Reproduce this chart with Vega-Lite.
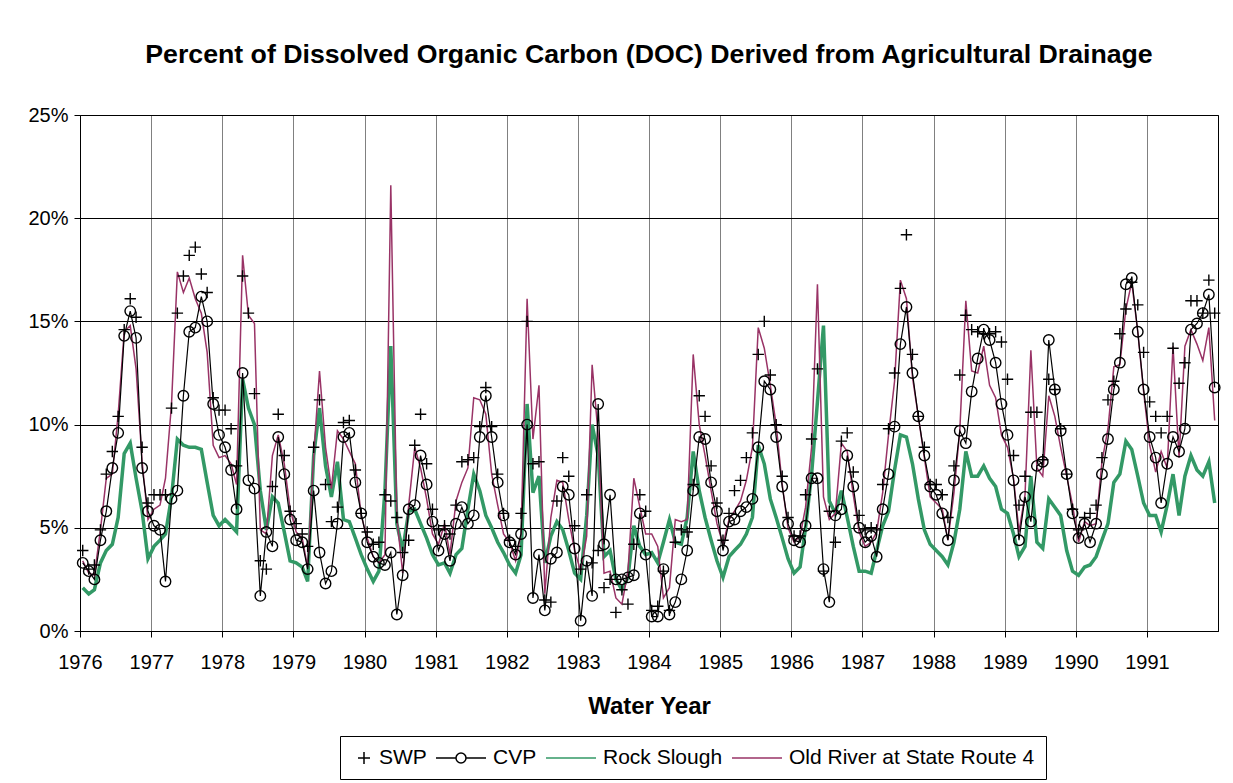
{
"$schema":"https://vega.github.io/schema/vega-lite/v6.json",
"width":1138,"height":516,
"autosize":{"type":"none"},
"padding":{"left":80,"top":115,"right":15,"bottom":152},
"background":"white",
"title":{"text":"Percent of Dissolved Organic Carbon (DOC) Derived from Agricultural Drainage","fontSize":26.7,"fontWeight":"bold","font":"Liberation Sans","color":"black","anchor":"middle","baseline":"alphabetic","offset":15},
"data":{"values":[
{"d":"1976-01-15","SWP":3.9,"CVP":3.3,"Rock":2.1,"Old":3.4},
{"d":"1976-02-15","SWP":3.0,"CVP":2.9,"Rock":1.8,"Old":2.8},
{"d":"1976-03-15","SWP":3.2,"CVP":2.5,"Rock":2.0,"Old":2.7},
{"d":"1976-04-15","SWP":4.9,"CVP":4.4,"Rock":3.3,"Old":4.9},
{"d":"1976-05-15","SWP":7.6,"CVP":5.8,"Rock":3.9,"Old":7.4},
{"d":"1976-06-15","SWP":8.7,"CVP":7.9,"Rock":4.2,"Old":7.6},
{"d":"1976-07-15","SWP":10.4,"CVP":9.6,"Rock":5.5,"Old":10.5},
{"d":"1976-08-15","SWP":14.6,"CVP":14.3,"Rock":8.6,"Old":14.5},
{"d":"1976-09-15","SWP":16.1,"CVP":15.5,"Rock":9.1,"Old":14.8},
{"d":"1976-10-15","SWP":15.2,"CVP":14.2,"Rock":7.4,"Old":12.7},
{"d":"1976-11-15","SWP":8.9,"CVP":7.9,"Rock":5.8,"Old":8.2},
{"d":"1976-12-15","SWP":6.2,"CVP":5.8,"Rock":3.5,"Old":5.4},
{"d":"1977-01-15","SWP":6.6,"CVP":5.1,"Rock":4.1,"Old":5.9},
{"d":"1977-02-15","SWP":6.6,"CVP":4.9,"Rock":4.4,"Old":6.1},
{"d":"1977-03-15","SWP":6.6,"CVP":2.4,"Rock":4.7,"Old":7.4},
{"d":"1977-04-15","SWP":10.8,"CVP":6.4,"Rock":6.5,"Old":11.0},
{"d":"1977-05-15","SWP":15.4,"CVP":6.8,"Rock":9.3,"Old":17.4},
{"d":"1977-06-15","SWP":17.2,"CVP":11.4,"Rock":9.0,"Old":16.4},
{"d":"1977-07-15","SWP":18.2,"CVP":14.5,"Rock":8.9,"Old":17.1},
{"d":"1977-08-15","SWP":18.6,"CVP":14.7,"Rock":8.9,"Old":16.1},
{"d":"1977-09-15","SWP":17.3,"CVP":16.2,"Rock":8.8,"Old":15.4},
{"d":"1977-10-15","SWP":16.4,"CVP":15.0,"Rock":7.2,"Old":13.5},
{"d":"1977-11-15","SWP":11.3,"CVP":11.0,"Rock":5.6,"Old":9.0},
{"d":"1977-12-15","SWP":10.7,"CVP":9.5,"Rock":5.1,"Old":8.4},
{"d":"1978-01-15","SWP":10.7,"CVP":8.9,"Rock":5.4,"Old":8.5},
{"d":"1978-02-15","SWP":9.8,"CVP":7.8,"Rock":5.1,"Old":8.1},
{"d":"1978-03-15","SWP":8.0,"CVP":5.9,"Rock":4.8,"Old":7.1},
{"d":"1978-04-15","SWP":17.2,"CVP":12.5,"Rock":12.2,"Old":18.2},
{"d":"1978-05-15","SWP":15.4,"CVP":7.3,"Rock":10.8,"Old":15.3},
{"d":"1978-06-15","SWP":11.5,"CVP":6.9,"Rock":10.0,"Old":14.9},
{"d":"1978-07-15","SWP":3.4,"CVP":1.7,"Rock":6.8,"Old":4.9},
{"d":"1978-08-15","SWP":3.0,"CVP":4.8,"Rock":4.9,"Old":4.7},
{"d":"1978-09-15","SWP":7.0,"CVP":4.1,"Rock":6.5,"Old":8.5},
{"d":"1978-10-15","SWP":10.5,"CVP":9.4,"Rock":6.2,"Old":9.5},
{"d":"1978-11-15","SWP":8.5,"CVP":7.6,"Rock":4.8,"Old":8.1},
{"d":"1978-12-15","SWP":5.8,"CVP":5.4,"Rock":3.4,"Old":5.9},
{"d":"1979-01-15","SWP":5.2,"CVP":4.4,"Rock":3.3,"Old":4.8},
{"d":"1979-02-15","SWP":4.7,"CVP":4.3,"Rock":3.1,"Old":4.5},
{"d":"1979-03-15","SWP":4.1,"CVP":3.0,"Rock":2.4,"Old":3.1},
{"d":"1979-04-15","SWP":8.9,"CVP":6.8,"Rock":8.5,"Old":8.5},
{"d":"1979-05-15","SWP":11.2,"CVP":3.8,"Rock":10.8,"Old":12.6},
{"d":"1979-06-15","SWP":7.1,"CVP":2.3,"Rock":8.0,"Old":8.9},
{"d":"1979-07-15","SWP":5.3,"CVP":2.9,"Rock":6.5,"Old":6.9},
{"d":"1979-08-15","SWP":6.0,"CVP":5.2,"Rock":8.2,"Old":9.7},
{"d":"1979-09-15","SWP":10.1,"CVP":9.4,"Rock":5.4,"Old":9.3},
{"d":"1979-10-15","SWP":10.2,"CVP":9.6,"Rock":5.3,"Old":8.7},
{"d":"1979-11-15","SWP":7.8,"CVP":7.2,"Rock":4.5,"Old":8.1},
{"d":"1979-12-15","SWP":5.7,"CVP":5.7,"Rock":3.7,"Old":5.6},
{"d":"1980-01-15","SWP":4.8,"CVP":4.3,"Rock":3.0,"Old":4.5},
{"d":"1980-02-15","SWP":4.2,"CVP":3.6,"Rock":2.4,"Old":3.6},
{"d":"1980-03-15","SWP":4.3,"CVP":3.3,"Rock":2.9,"Old":3.3},
{"d":"1980-04-15","SWP":6.6,"CVP":3.2,"Rock":6.8,"Old":3.7},
{"d":"1980-05-15","SWP":6.3,"CVP":3.8,"Rock":13.8,"Old":21.6},
{"d":"1980-06-15","SWP":5.5,"CVP":0.8,"Rock":5.2,"Old":5.5},
{"d":"1980-07-15","SWP":3.8,"CVP":2.7,"Rock":3.9,"Old":2.8},
{"d":"1980-08-15","SWP":4.4,"CVP":5.9,"Rock":5.8,"Old":6.1},
{"d":"1980-09-15","SWP":9.0,"CVP":6.1,"Rock":5.9,"Old":8.9},
{"d":"1980-10-15","SWP":10.5,"CVP":8.5,"Rock":5.2,"Old":7.9},
{"d":"1980-11-15","SWP":8.1,"CVP":7.1,"Rock":4.5,"Old":6.4},
{"d":"1980-12-15","SWP":5.9,"CVP":5.3,"Rock":3.7,"Old":4.7},
{"d":"1981-01-15","SWP":4.9,"CVP":3.9,"Rock":3.2,"Old":4.2},
{"d":"1981-02-15","SWP":5.1,"CVP":4.7,"Rock":3.3,"Old":5.2},
{"d":"1981-03-15","SWP":4.7,"CVP":3.4,"Rock":2.8,"Old":3.7},
{"d":"1981-04-15","SWP":6.1,"CVP":5.2,"Rock":3.7,"Old":6.3},
{"d":"1981-05-15","SWP":8.2,"CVP":6.0,"Rock":4.0,"Old":7.2},
{"d":"1981-06-15","SWP":8.3,"CVP":5.2,"Rock":5.9,"Old":7.9},
{"d":"1981-07-15","SWP":8.4,"CVP":5.6,"Rock":7.6,"Old":11.3},
{"d":"1981-08-15","SWP":9.9,"CVP":9.4,"Rock":6.8,"Old":11.2},
{"d":"1981-09-15","SWP":11.8,"CVP":11.4,"Rock":5.6,"Old":10.5},
{"d":"1981-10-15","SWP":9.9,"CVP":9.4,"Rock":5.0,"Old":7.6},
{"d":"1981-11-15","SWP":7.6,"CVP":7.2,"Rock":4.3,"Old":6.1},
{"d":"1981-12-15","SWP":5.7,"CVP":5.6,"Rock":3.8,"Old":4.7},
{"d":"1982-01-15","SWP":4.4,"CVP":4.3,"Rock":3.2,"Old":4.3},
{"d":"1982-02-15","SWP":4.1,"CVP":3.7,"Rock":2.8,"Old":3.4},
{"d":"1982-03-15","SWP":5.7,"CVP":4.7,"Rock":3.7,"Old":4.7},
{"d":"1982-04-15","SWP":15.0,"CVP":10.0,"Rock":11.0,"Old":16.1},
{"d":"1982-05-15","SWP":8.1,"CVP":1.6,"Rock":6.7,"Old":9.3},
{"d":"1982-06-15","SWP":8.2,"CVP":3.7,"Rock":7.5,"Old":11.9},
{"d":"1982-07-15","SWP":1.5,"CVP":1.0,"Rock":3.3,"Old":1.8},
{"d":"1982-08-15","SWP":1.4,"CVP":3.5,"Rock":4.6,"Old":5.5},
{"d":"1982-09-15","SWP":6.3,"CVP":3.8,"Rock":5.3,"Old":7.3},
{"d":"1982-10-15","SWP":8.4,"CVP":7.0,"Rock":4.9,"Old":7.2},
{"d":"1982-11-15","SWP":7.5,"CVP":6.6,"Rock":3.9,"Old":5.4},
{"d":"1982-12-15","SWP":5.1,"CVP":4.0,"Rock":2.8,"Old":3.9},
{"d":"1983-01-15","SWP":3.0,"CVP":0.5,"Rock":2.5,"Old":2.9},
{"d":"1983-02-15","SWP":6.6,"CVP":3.4,"Rock":5.6,"Old":4.6},
{"d":"1983-03-15","SWP":3.3,"CVP":1.7,"Rock":10.0,"Old":12.9},
{"d":"1983-04-15","SWP":3.9,"CVP":11.0,"Rock":8.5,"Old":9.5},
{"d":"1983-05-15","SWP":2.1,"CVP":4.2,"Rock":3.6,"Old":2.8},
{"d":"1983-06-15","SWP":2.5,"CVP":6.6,"Rock":3.9,"Old":2.9},
{"d":"1983-07-15","SWP":0.9,"CVP":2.5,"Rock":2.5,"Old":1.6},
{"d":"1983-08-15","SWP":2.0,"CVP":2.5,"Rock":2.0,"Old":1.3},
{"d":"1983-09-15","SWP":1.3,"CVP":2.6,"Rock":2.6,"Old":2.9},
{"d":"1983-10-15","SWP":4.2,"CVP":2.7,"Rock":5.1,"Old":7.4},
{"d":"1983-11-15","SWP":6.6,"CVP":5.7,"Rock":4.1,"Old":6.0},
{"d":"1983-12-15","SWP":5.8,"CVP":3.7,"Rock":3.7,"Old":4.7},
{"d":"1984-01-15","SWP":1.0,"CVP":0.7,"Rock":3.8,"Old":4.7},
{"d":"1984-02-15","SWP":1.2,"CVP":0.7,"Rock":3.3,"Old":4.1},
{"d":"1984-03-15","SWP":2.9,"CVP":3.0,"Rock":4.3,"Old":1.6},
{"d":"1984-04-15","SWP":1.0,"CVP":0.8,"Rock":5.4,"Old":2.1},
{"d":"1984-05-15","SWP":4.3,"CVP":1.4,"Rock":4.3,"Old":5.4},
{"d":"1984-06-15","SWP":4.9,"CVP":2.5,"Rock":4.2,"Old":5.3},
{"d":"1984-07-15","SWP":4.8,"CVP":3.9,"Rock":5.5,"Old":5.4},
{"d":"1984-08-15","SWP":7.1,"CVP":6.8,"Rock":8.7,"Old":13.4},
{"d":"1984-09-15","SWP":11.4,"CVP":9.4,"Rock":6.8,"Old":10.0},
{"d":"1984-10-15","SWP":10.4,"CVP":9.3,"Rock":5.5,"Old":8.5},
{"d":"1984-11-15","SWP":8.0,"CVP":7.2,"Rock":4.4,"Old":6.8},
{"d":"1984-12-15","SWP":6.2,"CVP":5.8,"Rock":3.4,"Old":5.2},
{"d":"1985-01-15","SWP":4.4,"CVP":3.9,"Rock":2.6,"Old":4.2},
{"d":"1985-02-15","SWP":5.7,"CVP":5.3,"Rock":3.6,"Old":5.4},
{"d":"1985-03-15","SWP":6.8,"CVP":5.4,"Rock":3.9,"Old":5.8},
{"d":"1985-04-15","SWP":7.3,"CVP":5.8,"Rock":4.2,"Old":6.3},
{"d":"1985-05-15","SWP":8.4,"CVP":6.0,"Rock":4.7,"Old":7.3},
{"d":"1985-06-15","SWP":9.6,"CVP":6.4,"Rock":5.5,"Old":8.9},
{"d":"1985-07-15","SWP":13.4,"CVP":8.9,"Rock":9.0,"Old":14.7},
{"d":"1985-08-15","SWP":15.0,"CVP":12.1,"Rock":8.1,"Old":13.7},
{"d":"1985-09-15","SWP":12.4,"CVP":11.7,"Rock":6.4,"Old":11.9},
{"d":"1985-10-15","SWP":10.0,"CVP":9.4,"Rock":5.5,"Old":10.0},
{"d":"1985-11-15","SWP":7.5,"CVP":7.0,"Rock":4.5,"Old":7.1},
{"d":"1985-12-15","SWP":5.5,"CVP":5.2,"Rock":3.5,"Old":5.0},
{"d":"1986-01-15","SWP":4.6,"CVP":4.4,"Rock":2.8,"Old":4.3},
{"d":"1986-02-15","SWP":4.6,"CVP":4.3,"Rock":3.1,"Old":4.6},
{"d":"1986-03-15","SWP":6.6,"CVP":5.1,"Rock":5.0,"Old":6.0},
{"d":"1986-04-15","SWP":9.3,"CVP":7.4,"Rock":7.6,"Old":8.9},
{"d":"1986-05-15","SWP":12.7,"CVP":7.4,"Rock":11.1,"Old":16.8},
{"d":"1986-06-15","SWP":2.9,"CVP":3.0,"Rock":14.8,"Old":6.5},
{"d":"1986-07-15","SWP":5.8,"CVP":1.4,"Rock":6.3,"Old":5.4},
{"d":"1986-08-15","SWP":4.3,"CVP":5.6,"Rock":5.7,"Old":5.7},
{"d":"1986-09-15","SWP":9.2,"CVP":5.9,"Rock":6.8,"Old":9.1},
{"d":"1986-10-15","SWP":9.6,"CVP":8.5,"Rock":5.5,"Old":8.7},
{"d":"1986-11-15","SWP":7.7,"CVP":7.0,"Rock":4.1,"Old":6.6},
{"d":"1986-12-15","SWP":5.6,"CVP":5.0,"Rock":2.9,"Old":4.8},
{"d":"1987-01-15","SWP":4.9,"CVP":4.3,"Rock":2.9,"Old":4.1},
{"d":"1987-02-15","SWP":5.0,"CVP":4.6,"Rock":2.8,"Old":4.3},
{"d":"1987-03-15","SWP":4.9,"CVP":3.6,"Rock":3.9,"Old":4.8},
{"d":"1987-04-15","SWP":7.1,"CVP":5.9,"Rock":5.1,"Old":6.7},
{"d":"1987-05-15","SWP":9.8,"CVP":7.6,"Rock":5.8,"Old":9.5},
{"d":"1987-06-15","SWP":12.5,"CVP":9.9,"Rock":7.8,"Old":12.1},
{"d":"1987-07-15","SWP":16.6,"CVP":13.9,"Rock":9.5,"Old":17.0},
{"d":"1987-08-15","SWP":19.2,"CVP":15.7,"Rock":9.4,"Old":16.1},
{"d":"1987-09-15","SWP":13.4,"CVP":12.5,"Rock":8.1,"Old":12.3},
{"d":"1987-10-15","SWP":10.4,"CVP":10.4,"Rock":6.4,"Old":10.4},
{"d":"1987-11-15","SWP":8.9,"CVP":8.5,"Rock":4.9,"Old":8.4},
{"d":"1987-12-15","SWP":7.1,"CVP":7.0,"Rock":4.2,"Old":6.5},
{"d":"1988-01-15","SWP":7.1,"CVP":6.6,"Rock":3.9,"Old":6.2},
{"d":"1988-02-15","SWP":6.6,"CVP":5.7,"Rock":3.6,"Old":5.9},
{"d":"1988-03-15","SWP":5.5,"CVP":4.4,"Rock":3.2,"Old":4.4},
{"d":"1988-04-15","SWP":8.0,"CVP":7.3,"Rock":4.3,"Old":6.7},
{"d":"1988-05-15","SWP":12.4,"CVP":9.7,"Rock":5.9,"Old":9.7},
{"d":"1988-06-15","SWP":15.3,"CVP":9.1,"Rock":8.7,"Old":16.0},
{"d":"1988-07-15","SWP":14.6,"CVP":11.6,"Rock":7.5,"Old":12.6},
{"d":"1988-08-15","SWP":14.5,"CVP":13.2,"Rock":7.5,"Old":12.5},
{"d":"1988-09-15","SWP":14.4,"CVP":14.6,"Rock":8.0,"Old":13.8},
{"d":"1988-10-15","SWP":14.4,"CVP":14.1,"Rock":7.4,"Old":11.9},
{"d":"1988-11-15","SWP":14.5,"CVP":13.0,"Rock":7.0,"Old":11.3},
{"d":"1988-12-15","SWP":14.0,"CVP":11.0,"Rock":5.9,"Old":9.5},
{"d":"1989-01-15","SWP":12.2,"CVP":9.5,"Rock":5.7,"Old":8.9},
{"d":"1989-02-15","SWP":8.5,"CVP":7.3,"Rock":4.7,"Old":7.4},
{"d":"1989-03-15","SWP":6.1,"CVP":4.4,"Rock":3.6,"Old":4.8},
{"d":"1989-04-15","SWP":7.5,"CVP":6.5,"Rock":4.1,"Old":6.6},
{"d":"1989-05-15","SWP":10.6,"CVP":5.3,"Rock":7.5,"Old":13.6},
{"d":"1989-06-15","SWP":10.6,"CVP":8.0,"Rock":4.3,"Old":7.9},
{"d":"1989-07-15","SWP":8.3,"CVP":8.2,"Rock":4.0,"Old":7.5},
{"d":"1989-08-15","SWP":12.2,"CVP":14.1,"Rock":6.4,"Old":11.4},
{"d":"1989-09-15","SWP":11.7,"CVP":11.7,"Rock":6.0,"Old":10.4},
{"d":"1989-10-15","SWP":9.8,"CVP":9.7,"Rock":5.6,"Old":8.9},
{"d":"1989-11-15","SWP":7.6,"CVP":7.6,"Rock":3.9,"Old":7.5},
{"d":"1989-12-15","SWP":5.9,"CVP":5.7,"Rock":2.9,"Old":6.1},
{"d":"1990-01-15","SWP":4.9,"CVP":4.5,"Rock":2.7,"Old":4.3},
{"d":"1990-02-15","SWP":5.5,"CVP":5.2,"Rock":3.1,"Old":5.3},
{"d":"1990-03-15","SWP":5.7,"CVP":4.3,"Rock":3.2,"Old":5.1},
{"d":"1990-04-15","SWP":6.1,"CVP":5.2,"Rock":3.6,"Old":5.2},
{"d":"1990-05-15","SWP":8.4,"CVP":7.6,"Rock":4.4,"Old":8.2},
{"d":"1990-06-15","SWP":11.2,"CVP":9.3,"Rock":5.2,"Old":9.8},
{"d":"1990-07-15","SWP":12.1,"CVP":11.7,"Rock":7.2,"Old":12.8},
{"d":"1990-08-15","SWP":14.4,"CVP":13.0,"Rock":7.6,"Old":12.9},
{"d":"1990-09-15","SWP":15.6,"CVP":16.8,"Rock":9.2,"Old":15.6},
{"d":"1990-10-15","SWP":16.9,"CVP":17.1,"Rock":8.8,"Old":16.9},
{"d":"1990-11-15","SWP":15.8,"CVP":14.5,"Rock":7.5,"Old":14.5},
{"d":"1990-12-15","SWP":13.5,"CVP":11.7,"Rock":6.2,"Old":11.6},
{"d":"1991-01-15","SWP":11.1,"CVP":9.4,"Rock":5.6,"Old":9.0},
{"d":"1991-02-15","SWP":10.4,"CVP":8.4,"Rock":5.6,"Old":7.7},
{"d":"1991-03-15","SWP":9.6,"CVP":6.2,"Rock":4.8,"Old":8.7},
{"d":"1991-04-15","SWP":10.4,"CVP":8.1,"Rock":6.1,"Old":7.9},
{"d":"1991-05-15","SWP":13.7,"CVP":9.4,"Rock":7.6,"Old":13.8},
{"d":"1991-06-15","SWP":12.0,"CVP":8.7,"Rock":5.6,"Old":8.4},
{"d":"1991-07-15","SWP":13.0,"CVP":9.8,"Rock":7.5,"Old":13.8},
{"d":"1991-08-15","SWP":16.0,"CVP":14.6,"Rock":8.5,"Old":14.6},
{"d":"1991-09-15","SWP":16.0,"CVP":14.9,"Rock":7.8,"Old":13.9},
{"d":"1991-10-15","SWP":15.4,"CVP":15.4,"Rock":7.5,"Old":13.1},
{"d":"1991-11-15","SWP":17.0,"CVP":16.3,"Rock":8.2,"Old":14.7},
{"d":"1991-12-15","SWP":15.4,"CVP":11.8,"Rock":6.2,"Old":10.2}
]},
"encoding":{
 "x":{"field":"d","type":"temporal","title":"Water Year",
  "scale":{"type":"utc","domain":[{"year":1976,"month":1,"date":1,"utc":true},{"year":1992,"month":1,"date":1,"utc":true}]},
  "axis":{"values":[{"year":1976,"month":1,"date":1,"utc":true},{"year":1977,"month":1,"date":1,"utc":true},{"year":1978,"month":1,"date":1,"utc":true},{"year":1979,"month":1,"date":1,"utc":true},{"year":1980,"month":1,"date":1,"utc":true},{"year":1981,"month":1,"date":1,"utc":true},{"year":1982,"month":1,"date":1,"utc":true},{"year":1983,"month":1,"date":1,"utc":true},{"year":1984,"month":1,"date":1,"utc":true},{"year":1985,"month":1,"date":1,"utc":true},{"year":1986,"month":1,"date":1,"utc":true},{"year":1987,"month":1,"date":1,"utc":true},{"year":1988,"month":1,"date":1,"utc":true},{"year":1989,"month":1,"date":1,"utc":true},{"year":1990,"month":1,"date":1,"utc":true},{"year":1991,"month":1,"date":1,"utc":true}],
   "format":"%Y","labelFlush":false,"labelOverlap":false,"titleX":569,"titleY":82,"titleBaseline":"alphabetic","titleAnchor":"middle"}}
},
"layer":[
 {"mark":{"type":"line","color":"#339966","strokeWidth":3.5},
  "encoding":{"y":{"field":"Rock","type":"quantitative","title":null,"scale":{"domain":[0,25],"nice":false},"axis":{"values":[0,5,10,15,20,25],"labelExpr":"datum.value + '%'"}}}},
 {"mark":{"type":"line","color":"#993366","strokeWidth":1.5},
  "encoding":{"y":{"field":"Old","type":"quantitative","title":null,"scale":{"domain":[0,25],"nice":false},"axis":{"values":[0,5,10,15,20,25],"labelExpr":"datum.value + '%'"}}}},
 {"mark":{"type":"line","color":"black","strokeWidth":1.2},
  "encoding":{"y":{"field":"CVP","type":"quantitative","title":null,"scale":{"domain":[0,25],"nice":false},"axis":{"values":[0,5,10,15,20,25],"labelExpr":"datum.value + '%'"}}}},
 {"mark":{"type":"point","shape":"circle","filled":false,"size":110,"stroke":"black","strokeWidth":1.4,"opacity":1},
  "encoding":{"y":{"field":"CVP","type":"quantitative","title":null,"scale":{"domain":[0,25],"nice":false},"axis":{"values":[0,5,10,15,20,25],"labelExpr":"datum.value + '%'"}}}},
 {"mark":{"type":"point","shape":"M-1,0H1M0,-1V1","filled":false,"size":130,"stroke":"black","strokeWidth":1.4,"opacity":1},
  "encoding":{"y":{"field":"SWP","type":"quantitative","title":null,"scale":{"domain":[0,25],"nice":false},"axis":{"values":[0,5,10,15,20,25],"labelExpr":"datum.value + '%'"}}}},
 {"transform":[{"fold":["SWP","CVP","Rock","Old"],"as":["series","v"]}],
  "mark":{"type":"point","filled":false,"opacity":0},
  "encoding":{
   "y":{"field":"v","type":"quantitative","title":null,"scale":{"domain":[0,25],"nice":false},"axis":{"values":[0,5,10,15,20,25],"labelExpr":"datum.value + '%'"}},
   "color":{"field":"series","type":"nominal","title":null,"scale":{"domain":["SWP","CVP","Rock","Old"],"range":["#000000","#000000","#339966","#993366"]},"legend":{"labelExpr":"datum.label == 'Rock' ? 'Rock Slough' : datum.label == 'Old' ? 'Old River at State Route 4' : datum.label"}},
   "shape":{"field":"series","type":"nominal","title":null,"scale":{"domain":["SWP","CVP","Rock","Old"],"range":["M-0.4,0H0.8M0.2,-0.6V0.6","M-4,0H-2M-1,0H1M-1,0A0.5,0.5 0 1 1 -2,0A0.5,0.5 0 1 1 -1,0","M-4,0H1","M-4,0H1"]},"legend":{"labelExpr":"datum.label == 'Rock' ? 'Rock Slough' : datum.label == 'Old' ? 'Old River at State Route 4' : datum.label"}},
   "strokeWidth":{"field":"series","type":"nominal","title":null,"scale":{"domain":["SWP","CVP","Rock","Old"],"range":[1.5,1.5,4,1.5]},"legend":{"labelExpr":"datum.label == 'Rock' ? 'Rock Slough' : datum.label == 'Old' ? 'Old River at State Route 4' : datum.label"}}
  }}
],
"config":{
 "font":"Liberation Sans",
 "view":{"stroke":"black","strokeWidth":1},
 "axis":{"labelFont":"Liberation Sans","labelFontSize":20,"labelColor":"black","tickColor":"black","domainColor":"black","titleFont":"Liberation Sans","titleFontSize":24,"titleFontWeight":"bold","titleColor":"black"},
 "axisX":{"gridColor":"#808080","gridWidth":1,"gridOpacity":1,"tickSize":6,"labelPadding":15,"domain":true},
 "axisY":{"gridColor":"#000000","gridWidth":1,"gridOpacity":1,"tickSize":6,"labelPadding":6},
 "legend":{"orient":"none","legendX":260,"legendY":621,"direction":"horizontal","columns":4,"strokeColor":"black","fillColor":"white","padding":11,"labelFont":"Liberation Sans","labelFontSize":21,"labelColor":"black","labelLimit":400,"symbolOpacity":1,"symbolSize":400,"columnPadding":6,"labelOffset":6,"cornerRadius":0}
}
}
